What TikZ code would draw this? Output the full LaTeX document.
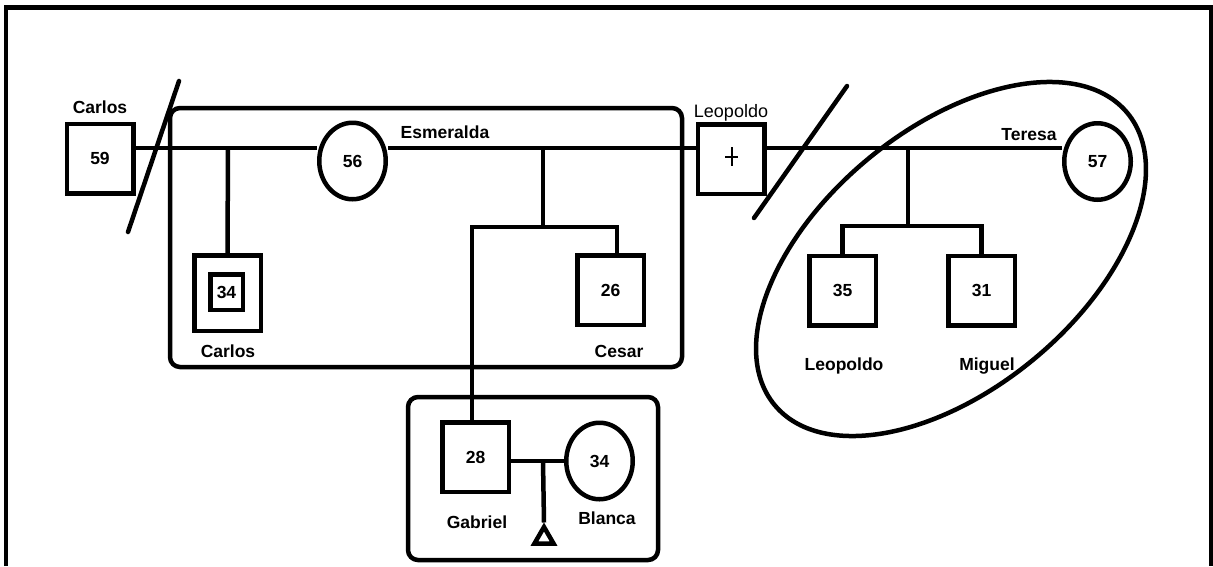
\documentclass[tikz,border=0pt]{standalone}
\usepackage{fontspec}
\setmainfont{Liberation Sans}
\usetikzlibrary{shapes.geometric}
\newcommand{\lblsize}{\fontsize{17.5}{20}\selectfont}

\begin{document}
\begin{tikzpicture}[
    x=1pt, y=-1pt,
    ln/.style={line width=4.5pt},
    sq/.style={draw,ln,rectangle,minimum width=66.5pt,minimum height=69.5pt,inner sep=0pt,font=\lblsize\bfseries},
    ov/.style={draw,ln,ellipse,minimum width=66.5pt,minimum height=76.5pt,inner sep=0pt,font=\lblsize\bfseries},
    lbl/.style={font=\lblsize\bfseries,anchor=base,inner sep=0pt},
  ]
  \useasboundingbox (0,0) rectangle (1213,566);
  \draw[line width=4.5pt] (6,566) -- (6,7.5) -- (1211,7.5) -- (1211,566);
  % persons
  \node[sq] (c59) at (100,158.5) {59};
  \node[ov] (e56) at (352.5,161) {56};
  \node[sq] (l0) at (731,159) {};
  \draw[line width=1.3pt] (725,157) -- (738,157) (732,147) -- (732,166);
  \node[ov] (t57) at (1097.5,161.5) {57};
  \node[sq,minimum height=75.5pt] (c34) at (227.5,293) {};
  \node[sq,minimum width=32.5pt,minimum height=35.5pt] (c34i) at (226.5,292) {34};
  \node[sq] (c26) at (610.5,290) {26};
  \node[sq] (l35) at (842.5,290.5) {35};
  \node[sq] (m31) at (981.5,290.5) {31};
  \node[sq] (g28) at (475.5,457) {28};
  \node[ov] (b34) at (599.5,461) {34};
  \node[draw,ln,regular polygon,regular polygon sides=3,minimum size=22pt,inner sep=0pt] (tri) at (544,538) {};
  % names
  \node[lbl] (nc59) at (100,113) {Carlos};
  \node[lbl] (ne56) at (445,138) {Esmeralda};
  \node[lbl,font=\fontsize{18}{20}\selectfont] (nl0) at (731,117) {Leopoldo};
  \node[lbl] (nt57) at (1029,140) {Teresa};
  \node[lbl] (nc34) at (228,357) {Carlos};
  \node[lbl] (nc26) at (619,357) {Cesar};
  \node[lbl] (ng28) at (477,528) {Gabriel};
  \node[lbl] (nb34) at (607,524) {Blanca};
  \node[lbl] (nl35) at (844,370) {Leopoldo};
  \node[lbl] (nm31) at (987,370) {Miguel};
  % relationship lines
  \coordinate (m1) at (228,148);
  \coordinate (m2) at (543,148);
  \coordinate (m3) at (908,148);
  \coordinate (s2) at (543,227);
  \coordinate (s2a) at (472,227);
  \coordinate (s2b) at (617,227);
  \coordinate (s3) at (908,226);
  \coordinate (m4) at (543,461);
  \draw[ln] (m1 -| c59.east) -- (m1 -| e56.west);
  \draw[ln] (m1) -- (c34.north);
  \draw[ln] (m2 -| e56.east) -- (m2 -| l0.west);
  \draw[ln] (m2) -- (s2);
  \draw[ln] (s2a |- g28.north) -- (s2a) -- (s2b) -- (s2b |- c26.north);
  \draw[ln] (m3 -| l0.east) -- (m3 -| t57.west);
  \draw[ln] (m3) -- (s3);
  \draw[ln] (l35.north) -- (l35.north |- s3) -- (m31.north |- s3) -- (m31.north);
  \draw[ln] (m4 -| g28.east) -- (m4 -| b34.west);
  \draw[ln] (m4) -- (tri.corner 1);
  % divorces
  \draw[ln,line cap=round] (128,232) -- (179,81);
  \draw[ln,line cap=round] (754,218) -- (847,86);
  % households
  \draw[ln,rounded corners=10pt] (170,108) rectangle (682,367);
  \draw[ln,rounded corners=10pt] (408,397) rectangle (658,560);
  \draw[ln,rotate around={39.6:(951,259)}] (951,259) ellipse (229 and 130);
\end{tikzpicture}
\end{document}
